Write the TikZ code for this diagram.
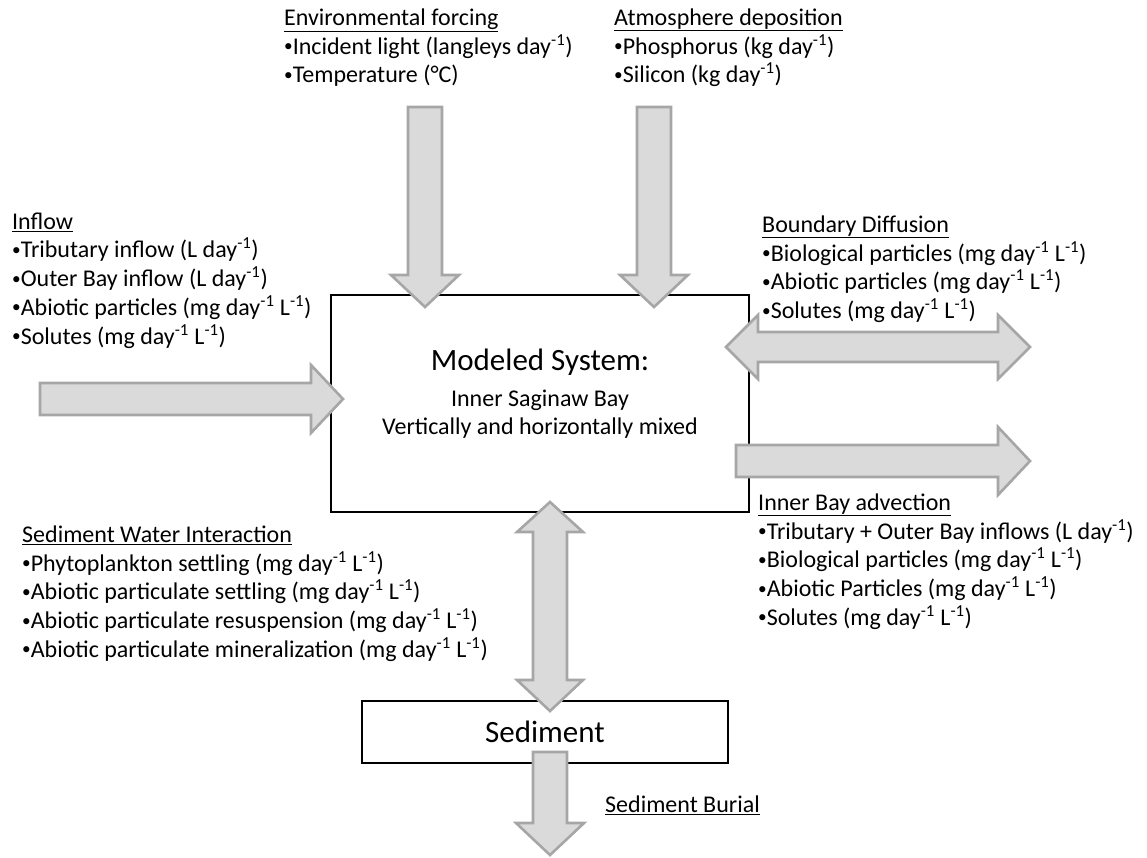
\documentclass[tikz,border=0pt]{standalone}
\usepackage{fontspec}
\setmainfont{Carlito}
\usetikzlibrary{positioning}

\definecolor{arrowfill}{RGB}{218,218,218}
\definecolor{arrowedge}{RGB}{166,166,166}

\tikzset{
	fatarrow/.style={fill=arrowfill, draw=arrowedge, line width=2.6pt, line join=miter},
	sysbox/.style={draw=black, line width=2.6pt, inner sep=0pt},
	infotext/.style={anchor=north west, align=left, inner sep=0pt, font=\fontsize{24}{28.7}\selectfont},
}

\newcommand{\inv}{\textsuperscript{-1}}
\newcommand{\bul}{\raisebox{0.1em}{\scalebox{0.72}{•}}}
% fat block arrows (x, y top, y tip) and (y, x start, x tip)
\newcommand{\fatdown}[3]{\draw[fatarrow] (#1-17,#2) -- (#1+17,#2) -- (#1+17,#3-32) -- (#1+34,#3-32) -- (#1,#3) -- (#1-34,#3-32) -- (#1-17,#3-32) -- cycle;}
\newcommand{\fatright}[3]{\draw[fatarrow] (#2,#1-16) -- (#3-32,#1-16) -- (#3-32,#1-34) -- (#3,#1) -- (#3-32,#1+34) -- (#3-32,#1+16) -- (#2,#1+16) -- cycle;}

\begin{document}
\begin{tikzpicture}[x=1pt, y=-1pt]
	\useasboundingbox (0,0) rectangle (1147,857);
	
	% Boxes
	\node[sysbox, minimum width=418, minimum height=217] (model) at (540,403.5) {};
	\node[align=center, inner sep=0pt, anchor=north, font=\fontsize{24}{28}\selectfont] (modeltext) at (540,349)
		{{\fontsize{31}{33}\selectfont Modeled System:}\\[8pt]
		 Inner Saginaw Bay\\
		 Vertically and horizontally mixed};
	\node[sysbox, minimum width=366, minimum height=62, font=\fontsize{31}{33}\selectfont] (sediment) at (545,732) {Sediment};
	
	% Fluxes in and out
	\fatdown{425}{107}{307}
	\fatdown{654}{107}{307}
	\fatright{399}{40}{343}
	\fatright{461}{736}{1030}
	\draw[fatarrow] (726,347) -- (758,315) -- (758,332) -- (998,332) -- (998,315) -- (1030,347)
		-- (998,379) -- (998,362) -- (758,362) -- (758,379) -- cycle;
	\draw[fatarrow] (550,502) -- (583,532) -- (567,532) -- (567,680) -- (583,680) -- (550,711)
		-- (517,680) -- (533,680) -- (533,532) -- (517,532) -- cycle;
	\fatdown{550}{752}{855}
	
	% Labels
	\node[infotext] (envforcing) at (284,8.5) {\underline{Environmental forcing}\\
		\bul Incident light (langleys day\inv)\\
		\bul Temperature (°C)};
	\node[infotext] (atmdep) at (614,8.5) {\underline{Atmosphere deposition}\\
		\bul Phosphorus (kg day\inv)\\
		\bul Silicon (kg day\inv)};
	\node[infotext] (inflow) at (12,212.5) {\underline{Inflow}\\
		\bul Tributary inflow (L day\inv)\\
		\bul Outer Bay inflow (L day\inv)\\
		\bul Abiotic particles (mg day\inv{} L\inv)\\
		\bul Solutes (mg day\inv{} L\inv)};
	\node[infotext] (bounddiff) at (762,215.5) {\underline{Boundary Diffusion}\\
		\bul Biological particles (mg day\inv{} L\inv)\\
		\bul Abiotic particles (mg day\inv{} L\inv)\\
		\bul Solutes (mg day\inv{} L\inv)};
	\node[infotext] (advection) at (758,493.5) {\underline{Inner Bay advection}\\
		\bul Tributary + Outer Bay inflows (L day\inv)\\
		\bul Biological particles (mg day\inv{} L\inv)\\
		\bul Abiotic Particles (mg day\inv{} L\inv)\\
		\bul Solutes (mg day\inv{} L\inv)};
	\node[infotext] (sedwater) at (22,525.5) {\underline{Sediment Water Interaction}\\
		\bul Phytoplankton settling (mg day\inv{} L\inv)\\
		\bul Abiotic particulate settling (mg day\inv{} L\inv)\\
		\bul Abiotic particulate resuspension (mg day\inv{} L\inv)\\
		\bul Abiotic particulate mineralization (mg day\inv{} L\inv)};
	\node[infotext] (burial) at (605,795.5) {\underline{Sediment Burial}};
	
\end{tikzpicture}
\end{document}
